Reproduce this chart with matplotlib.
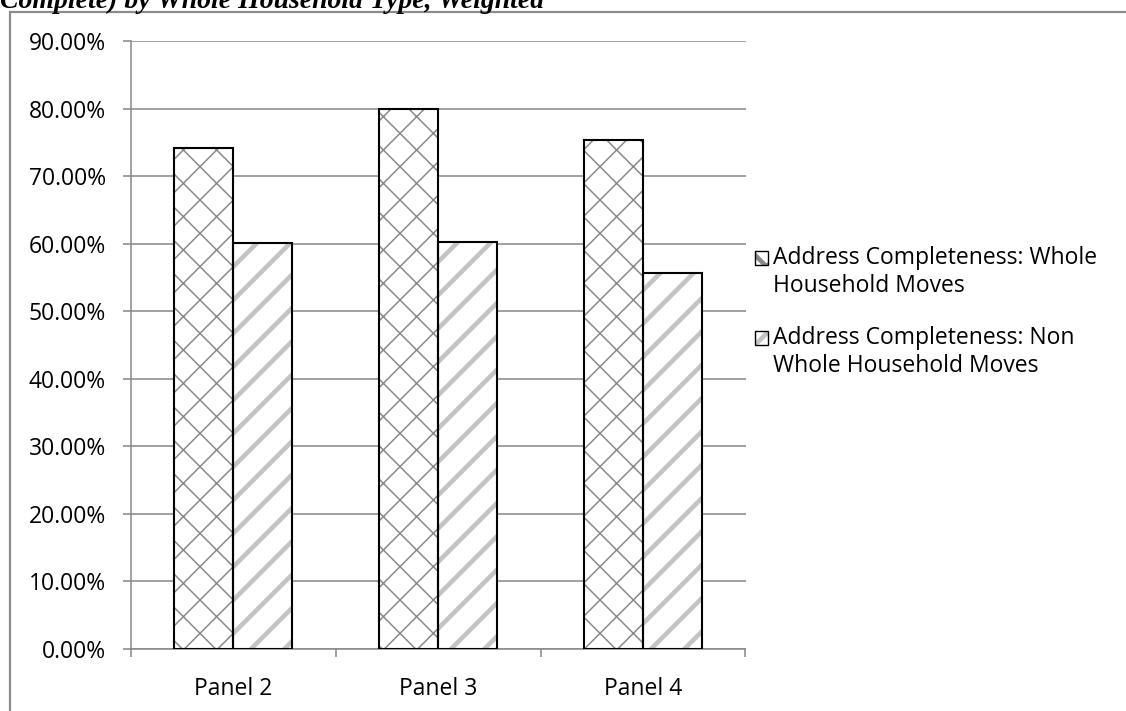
import matplotlib
matplotlib.use("Agg")
import matplotlib.pyplot as plt
from matplotlib.patches import Patch, Rectangle
from matplotlib.legend_handler import HandlerTuple
from matplotlib.ticker import FuncFormatter, FixedLocator

panels = ["Panel 2", "Panel 3", "Panel 4"]
whole_moves = [74.1, 79.9, 75.4]
non_whole_moves = [60.1, 60.2, 55.6]
series_labels = [
    "Address Completeness: Whole\nHousehold Moves",
    "Address Completeness: Non\nWhole Household Moves",
]
yticks = [0, 10, 20, 30, 40, 50, 60, 70, 80, 90]

GRID = "#868686"
HATCH = "#8a8a8a"
STRIPE = "#c4c4c4"
FONT = "Open Sans"
FS = 16.5

W, H = 1126, 711
fig = plt.figure(figsize=(W / 100, H / 100), dpi=100, facecolor="white")

# outer chart frame (only left and top edges fall inside the picture)
fig.patches.append(Rectangle((10 / W, -0.05), 1.2, 1.05 - 12 / H,
                             transform=fig.transFigure, fill=False,
                             edgecolor="#8c8c8c", linewidth=1.6, zorder=0))

# clipped caption at top
fig.text(0.0, 1 - 7.5 / H, "Complete) by Whole Household Type, Weighted",
         family="Liberation Serif", fontweight="bold", fontstyle="italic",
         fontsize=20, va="baseline", ha="left")

ax = fig.add_axes([131 / W, (H - 649) / H, (745.5 - 131) / W, (649 - 41) / H])

x = list(range(len(panels)))
bw = 0.288
xw = [i - bw / 2 for i in x]
xn = [i + bw / 2 for i in x]


def hatched_bars(xs, vals, hatch, color, hlw):
    plt.rcParams["hatch.linewidth"] = hlw
    bars = ax.bar(xs, vals, bw, facecolor="white", edgecolor=color,
                  hatch=hatch, linewidth=0, zorder=2)
    for b in bars:
        if hasattr(b, "set_hatch_linewidth"):
            b.set_hatch_linewidth(hlw)
    ax.bar(xs, vals, bw, fill=False, edgecolor="black", linewidth=1.5,
           zorder=3)
    return bars


hatched_bars(xw, whole_moves, "x", HATCH, 1.1)
hatched_bars(xn, non_whole_moves, "/", STRIPE, 3.3)

ax.set_ylim(0, 90)
ax.set_xlim(-0.5, 2.5)
ax.set_yticks(yticks)
ax.yaxis.set_major_formatter(FuncFormatter(lambda v, p: f"{v:.2f}%"))
ax.yaxis.grid(True, color=GRID, linewidth=1.1)
ax.set_axisbelow(True)

ax.xaxis.set_major_locator(FixedLocator([-0.5, 0.5, 1.5, 2.5]))
ax.xaxis.set_major_formatter(FuncFormatter(lambda v, p: ""))
ax.xaxis.set_minor_locator(FixedLocator(x))
ax.set_xticklabels(panels, minor=True)
ax.tick_params(axis="x", which="major", length=6, width=1.1, color=GRID,
               direction="out")
ax.tick_params(axis="x", which="minor", length=0, pad=20, labelsize=FS)
ax.tick_params(axis="y", length=6, width=1.1, color=GRID, pad=12,
               labelsize=FS)
for lab in ax.get_xticklabels(minor=True) + ax.get_yticklabels():
    lab.set_family(FONT)

for s in ["top", "right"]:
    ax.spines[s].set_visible(False)
for s in ["left", "bottom"]:
    ax.spines[s].set_color(GRID)
    ax.spines[s].set_linewidth(1.1)


class FirstLineHandler(HandlerTuple):
    # put the legend key next to the first line of a two-line label
    def create_artists(self, legend, orig_handle, xdescent, ydescent,
                       width, height, fontsize, trans):
        return super().create_artists(legend, orig_handle, xdescent,
                                      ydescent - 0.65 * fontsize, width,
                                      height, fontsize, trans)


handles = []
for hatch, color in [("x", HATCH), ("/", STRIPE)]:
    handles.append((Patch(facecolor="white", edgecolor=color, hatch=hatch,
                          linewidth=0),
                    Patch(fill=False, edgecolor="black", linewidth=1.0)))
leg = fig.legend(handles, series_labels, loc="center left",
                 bbox_to_anchor=(755 / W, 1 - 312 / H),
                 handler_map={tuple: FirstLineHandler(ndivide=1)},
                 frameon=False, handlelength=0.57, handleheight=0.57,
                 handletextpad=0.22, labelspacing=1.22, borderpad=0,
                 borderaxespad=0, prop={"family": FONT, "size": FS})

fig.savefig("out.png", dpi=100, facecolor="white")
